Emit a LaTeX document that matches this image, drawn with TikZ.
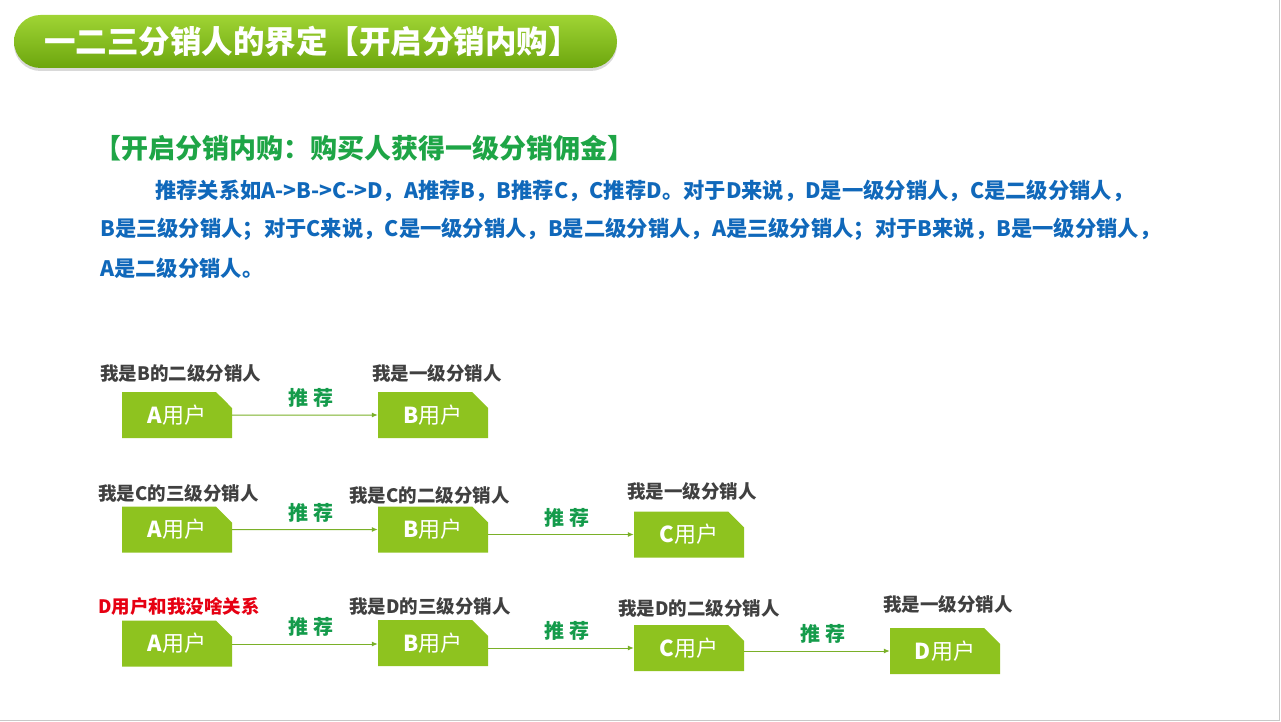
\documentclass[tikz,border=0pt]{standalone}
\usepackage{fontspec}
\newfontfamily\cjk{Noto Sans CJK SC}
\usetikzlibrary{arrows.meta,shapes.misc,shadows}
\definecolor{pillTop}{RGB}{160,212,52}
\definecolor{pillBot}{RGB}{108,166,14}
\definecolor{headGreen}{RGB}{30,165,70}
\definecolor{textBlue}{RGB}{16,104,186}
\definecolor{labelGray}{RGB}{64,64,64}
\definecolor{noteRed}{RGB}{230,0,18}
\definecolor{boxGreen}{RGB}{142,195,31}
\definecolor{linkGreen}{RGB}{122,176,40}
\definecolor{tuiGreen}{RGB}{20,155,75}
\definecolor{frameGray}{RGB}{200,200,200}
\begin{document}
\begin{tikzpicture}[x=1pt,y=-1pt,
  ubox/.style={chamfered rectangle,chamfered rectangle corners=north east,
    chamfered rectangle xsep=8pt,chamfered rectangle ysep=8pt,fill=boxGreen,
    minimum width=110pt,minimum height=46pt,inner sep=0pt,text=white,
    font=\cjk\fontsize{22}{22}\selectfont},
  who/.style={anchor=west,inner sep=0pt,text=labelGray,
    font=\cjk\bfseries\fontsize{18.5}{19}\selectfont},
  para/.style={anchor=west,inner sep=0pt,text=textBlue,
    font=\cjk\bfseries\fontsize{21.3}{22}\selectfont},
  link/.style={draw=linkGreen,line width=1pt,-{Latex[length=6pt,width=5pt]}},
  tui/.style={midway,above=7pt,xshift=6pt,inner sep=0pt,text=tuiGreen,
    font=\cjk\bfseries\fontsize{20}{20}\selectfont}]
  \useasboundingbox (0,0) rectangle (1281,722);
  \draw[frameGray,line width=1.5pt] (1279.5,0) -- (1279.5,720.5) -- (0,720.5);
  \node (title) at (315.5,41.5) [rounded corners=26.5pt,minimum width=603pt,
    minimum height=53pt,top color=pillTop,bottom color=pillBot,draw=none,
    drop shadow={shadow xshift=0pt,shadow yshift=-3pt,opacity=0.3},
    text=white,font=\cjk\bfseries\fontsize{31.5}{32}\selectfont]
    {\hspace*{-7pt}一二三分销人的界定【开启分销内购】};
  \node (head) at (94,148) [anchor=west,inner sep=0pt,text=headGreen,
    font=\cjk\bfseries\fontsize{27}{27}\selectfont]
    {【开启分销内购：购买人获得一级分销佣金】};
  \node (line1) at (155,191) [para] {推荐关系如A->B->C->D，A推荐B，B推荐C，C推荐D。对于D来说，D是一级分销人，C是二级分销人，};
  \node (line2) at (100,229) [para] {B是三级分销人；对于C来说，C是一级分销人，B是二级分销人，A是三级分销人；对于B来说，B是一级分销人，};
  \node (line3) at (100,268) [para] {A是二级分销人。};

  \node (a1) at (177,415) [ubox] {\textbf{A}用户};
  \node (b1) at (433,415) [ubox] {\textbf{B}用户};
  \node (a1who) at (100,373) [who] {我是B的二级分销人};
  \node (b1who) at (372,373) [who] {我是一级分销人};
  \draw[link] (a1) -- (b1) node[tui] {推 荐};

  \node (a2) at (177,529.5) [ubox] {\textbf{A}用户};
  \node (b2) at (433,529.5) [ubox] {\textbf{B}用户};
  \node (c2) at (689,534.5) [ubox] {\textbf{C}用户};
  \node (a2who) at (98,493) [who] {我是C的三级分销人};
  \node (b2who) at (349,495) [who] {我是C的二级分销人};
  \node (c2who) at (627,491) [who] {我是一级分销人};
  \draw[link] (a2) -- (b2) node[tui] {推 荐};
  \draw[link] (b2.east |- c2.west) -- (c2.west) node[tui] {推 荐};

  \node (a3) at (177,643.5) [ubox] {\textbf{A}用户};
  \node (b3) at (433,643) [ubox] {\textbf{B}用户};
  \node (c3) at (689,648) [ubox] {\textbf{C}用户};
  \node (d3) at (945,651) [ubox] {\textbf{D}用户};
  \node (a3who) at (98,606) [who,text=noteRed] {D用户和我没啥关系};
  \node (b3who) at (349,606) [who] {我是D的三级分销人};
  \node (c3who) at (618,608) [who] {我是D的二级分销人};
  \node (d3who) at (883,604) [who] {我是一级分销人};
  \draw[link] (a3.east |- 0,644) -- (b3.west |- 0,644) node[tui] {推 荐};
  \draw[link] (b3.east |- c3.west) -- (c3.west) node[tui] {推 荐};
  \draw[link] (c3.east |- d3.west) -- (d3.west) node[tui] {推 荐};
\end{tikzpicture}
\end{document}
